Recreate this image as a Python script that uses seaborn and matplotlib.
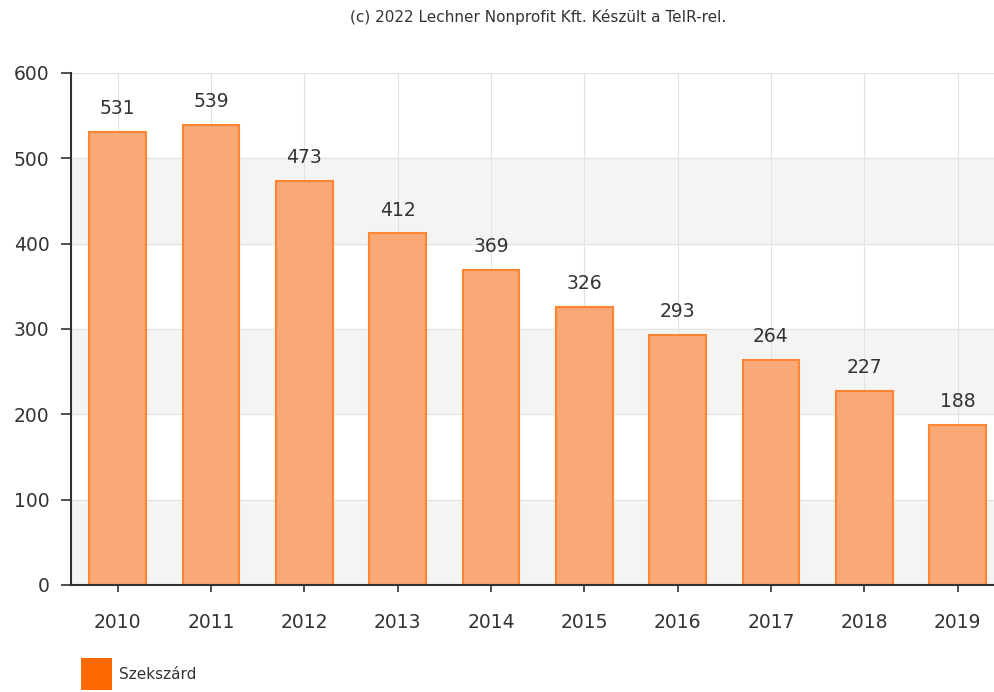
import pandas as pd
import matplotlib.pyplot as plt
import seaborn as sns
from matplotlib.patches import Patch

# Adatok
years = ['2010', '2011', '2012', '2013', '2014', '2015', '2016', '2017', '2018', '2019']
values = [531, 539, 473, 412, 369, 326, 293, 264, 227, 188]
y_ticks = [0, 100, 200, 300, 400, 500, 600]
series_name = 'Szekszárd'

df = pd.DataFrame({'Year': years, 'Value': values})

sns.set_style('white')
plt.rcParams['font.family'] = ['DejaVu Sans']

fig = plt.figure(figsize=(9.95, 6.92), dpi=100)
ax = fig.add_axes([71 / 995, 1 - 585 / 692, 924 / 995, 512 / 692])

# váltakozó sávok + rács
for lo in (0, 200, 400):
    ax.axhspan(lo, lo + 100, color='#f4f4f4', zorder=0)
for t in y_ticks:
    ax.axhline(t, color='#e2e2e2', lw=0.8, zorder=0.5)
for i in range(len(years)):
    ax.axvline(i, color='#e2e2e2', lw=0.8, zorder=0.5)

sns.barplot(data=df, x='Year', y='Value', color='#F9A877', width=0.61,
            edgecolor='#FF8533', linewidth=1.5, saturation=1, ax=ax, zorder=2)

for i, v in enumerate(values):
    ax.annotate(str(v), (i, v), xytext=(0, 10), textcoords='offset points',
                ha='center', va='bottom', fontsize=13.5, color='#333333')

ax.set_ylim(0, 600)
ax.set_xlim(-0.5, 9.4)
ax.set_yticks(y_ticks)
ax.set_xlabel('')
ax.set_ylabel('')
ax.tick_params(axis='both', labelsize=13.5, colors='#333333', width=1.2,
               direction='out')
ax.tick_params(axis='y', length=7.5, pad=8)
ax.tick_params(axis='x', length=5, pad=15)
ax.yaxis.set_ticks_position('left')
ax.xaxis.set_ticks_position('bottom')
for s in ('top', 'right'):
    ax.spines[s].set_visible(False)
for s in ('left', 'bottom'):
    ax.spines[s].set_color('#333333')
    ax.spines[s].set_linewidth(1.5)

fig.text(538 / 995, 1 - 17 / 692, '(c) 2022 Lechner Nonprofit Kft. Készült a TeIR-rel.',
         ha='center', va='center', fontsize=11, color='#333333')

fig.legend(handles=[Patch(facecolor='#FF6A00', edgecolor='none', label=series_name)],
           loc='center left', bbox_to_anchor=(75 / 995, 1 - 674 / 692), frameon=False,
           fontsize=11, handlelength=2.0, handleheight=2.8, handletextpad=0.5,
           labelcolor='#333333', borderaxespad=0)

fig.savefig('out.png', dpi=100)
